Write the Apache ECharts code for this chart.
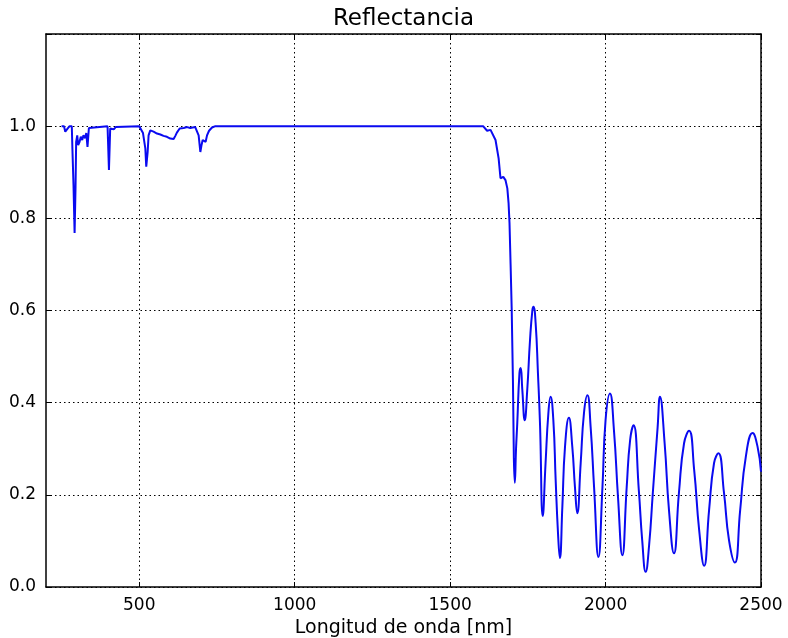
<!DOCTYPE html>
<html>
<head>
<meta charset="utf-8">
<script src="https://cdn.jsdelivr.net/npm/echarts@6/dist/echarts.min.js"></script>
<style>html,body{margin:0;padding:0;background:#fff}#c{width:788px;height:638px}</style>
</head>
<body>
<div id="c"></div>
<script>
// Wavelength (nm) and reflectance
const wavelength = [
  250, 258, 262, 266, 270, 276, 283, 285, 288.5, 292, 295, 297, 300.5, 303.5, 308, 312, 316.5, 320.5, 326, 329.5, 333.5, 338, 343,
  398, 402.5, 406.5, 412, 418, 424, 430,
  500, 503, 512, 519.5, 522.5, 527, 530, 535.5, 546, 557, 568, 578, 589, 600, 605, 610.5, 616, 621, 630, 643, 654, 664, 680,
  686, 691, 696.5, 700, 704, 709, 713.5, 718, 724.5, 734, 745,
  1606, 1612, 1619, 1625, 1630, 1636, 1646, 1656, 1662, 1671, 1678, 1684, 1688, 1691, 1694.5, 1698, 1702, 1705, 1708,
  1712, 1716, 1723, 1727, 1732, 1740, 1748, 1757, 1764.5, 1768, 1775, 1782.5, 1789, 1798,
  1807, 1816, 1823, 1832, 1839.5, 1847, 1853, 1861, 1869.5, 1882, 1893, 1901.5, 1909,
  1920, 1930.5, 1941.5, 1952, 1963, 1977, 1990, 2000, 2014, 2027, 2040, 2054,
  2068, 2079, 2090, 2107, 2118, 2129, 2140, 2152, 2167.5, 2175, 2190, 2204, 2220,
  2236, 2252.5, 2268.6, 2285, 2301, 2317, 2333, 2349, 2363, 2381, 2397, 2416,
  2433, 2451, 2473, 2489, 2500
];
const reflectance = [
  1.0, 1.0, 0.988, 0.985, 0.995, 1.0, 1.0, 0.95, 0.872, 0.768, 0.868, 0.966, 0.98, 0.959, 0.966, 0.977, 0.97, 0.98, 0.974, 0.985, 0.955, 0.996, 1.0,
  1.0, 0.905, 0.995, 0.998, 0.993, 0.998, 1.0,
  1.0, 0.996, 0.985, 0.952, 0.912, 0.944, 0.98, 0.991, 0.988, 0.984, 0.982, 0.979, 0.977, 0.973, 0.975, 0.972, 0.979, 0.986, 0.995, 0.996, 0.998, 0.996, 0.998,
  0.995, 0.98, 0.944, 0.958, 0.97, 0.974, 0.966, 0.98, 0.99, 0.997, 1.0,
  1.0, 0.996, 0.99, 0.99, 0.992, 0.992, 0.97, 0.93, 0.887, 0.89, 0.883, 0.865, 0.833, 0.79, 0.70, 0.605, 0.449, 0.28, 0.226,
  0.30, 0.356, 0.464, 0.475, 0.43, 0.362, 0.427, 0.536, 0.60, 0.608, 0.573, 0.464, 0.356, 0.154,
  0.269, 0.377, 0.413, 0.362, 0.232, 0.117, 0.063, 0.174, 0.304, 0.367, 0.304, 0.217, 0.16,
  0.269, 0.377, 0.416, 0.347, 0.217, 0.065, 0.217, 0.362, 0.42, 0.34, 0.195, 0.069,
  0.217, 0.319, 0.351, 0.21, 0.10, 0.033, 0.09, 0.204, 0.347, 0.413, 0.312, 0.167, 0.073,
  0.204, 0.312, 0.339, 0.254, 0.124, 0.046, 0.167, 0.269, 0.29, 0.204, 0.102, 0.053,
  0.167, 0.282, 0.334, 0.304, 0.25
];
const xTickValues = [500, 1000, 1500, 2000, 2500];
const titleText = 'Reflectancia';
const xLabelText = 'Longitud de onda [nm]';

const pts = wavelength.map((w, i) => [w, reflectance[i]]);
const splitIdx = wavelength.indexOf(1705);
const FONT = 'DejaVu Sans';

const chart = echarts.init(document.getElementById('c'), null, {renderer: 'canvas'});
const gridLine = {show: true, lineStyle: {color: '#000', type: [1.5, 3], width: 1}};
chart.setOption({
  animation: false,
  backgroundColor: '#fff',
  grid: {left: 46, right: 27, top: 34, bottom: 51, containLabel: false, outerBoundsMode: 'none'},
  xAxis: [
    {
      type: 'value', min: 200, max: 2500, position: 'bottom',
      name: xLabelText, nameLocation: 'middle', nameGap: 31,
      nameTextStyle: {fontFamily: FONT, fontSize: 19, color: '#000'},
      axisLine: {show: true, onZero: false, lineStyle: {color: '#000', width: 1.5}},
      axisTick: {show: true, inside: true, length: 5, customValues: xTickValues, lineStyle: {color: '#000'}},
      axisLabel: {show: true, customValues: xTickValues, margin: 10, fontFamily: FONT, fontSize: 17, color: '#000',
        formatter: v => String(v)},
      splitLine: gridLine
    },
    {
      type: 'value', min: 200, max: 2500, position: 'top',
      name: titleText, nameLocation: 'middle', nameGap: 3,
      nameTextStyle: {fontFamily: FONT, fontSize: 23, color: '#000'},
      axisLine: {show: true, onZero: false, lineStyle: {color: '#000', width: 1.5}},
      axisTick: {show: true, inside: true, length: 5, customValues: xTickValues, lineStyle: {color: '#000'}},
      axisLabel: {show: false},
      splitLine: {show: false}
    }
  ],
  yAxis: [
    {
      type: 'value', min: 0, max: 1.2, interval: 0.2, position: 'left',
      axisLine: {show: true, onZero: false, lineStyle: {color: '#000', width: 1.5}},
      axisTick: {show: true, inside: true, length: 5, lineStyle: {color: '#000'}},
      axisLabel: {show: true, margin: 10, fontFamily: FONT, fontSize: 17, color: '#000',
        formatter: v => (v > 1.1 ? '' : v.toFixed(1))},
      splitLine: gridLine
    },
    {
      type: 'value', min: 0, max: 1.2, interval: 0.2, position: 'right',
      axisLine: {show: true, onZero: false, lineStyle: {color: '#000', width: 1.5}},
      axisTick: {show: true, inside: true, length: 5, lineStyle: {color: '#000'}},
      axisLabel: {show: false},
      splitLine: {show: false}
    }
  ],
  series: [
    {
      type: 'line', xAxisIndex: 0, yAxisIndex: 0, data: pts.slice(0, splitIdx + 1),
      showSymbol: false, symbol: 'none', smooth: false,
      lineStyle: {color: '#0a0af0', width: 2}, z: 5
    },
    {
      type: 'line', xAxisIndex: 0, yAxisIndex: 0, data: pts.slice(splitIdx),
      showSymbol: false, symbol: 'none', smooth: 0.5,
      lineStyle: {color: '#0a0af0', width: 2}, z: 5
    }
  ]
});
</script>
</body>
</html>
